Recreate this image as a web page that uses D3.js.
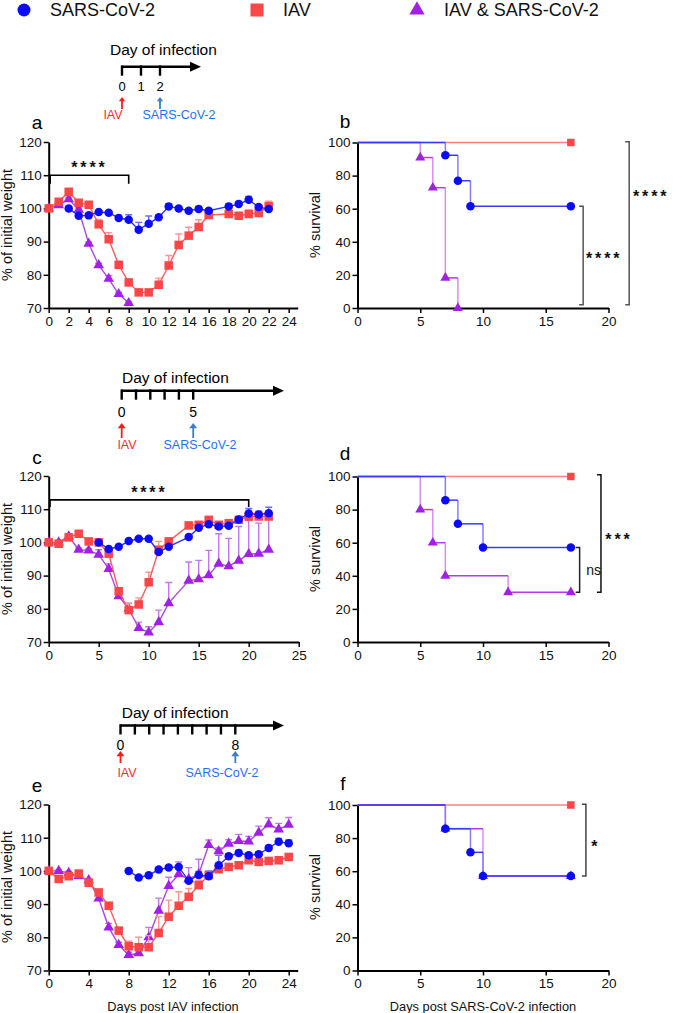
<!DOCTYPE html>
<html>
<head>
<meta charset="utf-8">
<script src="https://cdn.jsdelivr.net/npm/d3@7"></script>
<style>
  body { margin: 0; background: #fff; }
  svg text { font-family: "Liberation Sans", Arial, sans-serif; }
</style>
</head>
<body>
<svg id="chart" width="675" height="1013"></svg>
<script>
// ---- panel a : weight, SARS-CoV-2 given on day 2 ----
var aIavDays = [0,1,2,3,4,5,6,7,8,9,10,11,12,13,14,15,16,18,19,20,21,22];
var aIavW    = [100,102,105,101.7,101.1,95.2,90.7,83,77.7,74.7,74.7,77,82.8,89,91.8,94.4,98,98.3,97.8,98.3,98.6,100.7];
var aIavErr  = [0,0.5,0.8,0.8,0.6,1.5,2,1,0.8,0.5,0.5,2,3,3.3,2.5,2.2,1,1,0.8,1.2,1,1.5];
var aSarsDays = [2,3,4,5,6,7,8,9,10,11,12,13,14,15,16,18,19,20,21,22];
var aSarsW    = [100,97.8,97.9,98.9,98.7,97.1,96.6,93.6,95.4,97.3,100.6,100,99.3,99.8,99.3,100.6,101.3,102.6,100.4,99.8];
var aSarsErr  = [0.3,0.8,0.5,0.5,0.5,0.8,1.5,2.2,2.3,0.5,0.8,0.4,0.5,0.8,0.6,0.8,0.8,1,0.5,0.5];
var aCoDays = [0,1,2,3,4,5,6,7,8];
var aCoW    = [100,101,102.8,99.6,89.4,82.9,78.8,74.2,71.5];
var aCoErr  = [0,0.3,0.6,0.5,0.5,0.6,1,0.5,0.3];

// ---- panel c : weight, SARS-CoV-2 given on day 5 ----
var cIavDays = [0,1,2,3,4,5,6,7,8,9,10,11,12,14,15,16,17,18,19,20,21,22];
var cIavW    = [100,99.6,101.5,102.6,100.3,100,96.6,85.3,79.6,81.3,88,97.8,100.3,105.1,105.3,106.8,105.3,105.8,106.8,107.8,107.8,107.8];
var cIavErr  = [0,0.3,0.5,0.5,0.5,0.5,1,1,2,2,3,2.5,1,1,0.8,0.8,0.6,0.6,0.6,0.8,0.8,0.8];
var cSarsDays = [5,6,7,8,9,10,11,12,14,15,16,17,18,19,20,21,22];
var cSarsW    = [100,98,98.7,100.4,101.1,101.1,97.1,98.7,101.6,104.4,105.5,104.8,105,106.9,108.7,108.4,108.8];
var cSarsErr  = [0.3,0.5,0.3,0.3,0.3,0.3,0.8,0.8,0.5,0.5,0.5,0.5,0.5,0.6,1.5,1,1.8];
var cCoDays = [0,1,2,3,4,5,6,7,8,9,10,11,12,14,15,16,17,18,19,20,21,22];
var cCoW    = [100,100,101.8,97.8,97.6,96.3,92,83.8,80,74.2,72.9,76,81.7,88.5,88.9,90.1,93.6,92.8,94.5,96.5,96.6,97.8];
var cCoErr  = [0,0.3,0.8,0.5,0.5,1.5,1.5,1,1.7,1.8,1.7,3.6,6.2,5.6,5.7,7.5,9,8.4,10.3,10.1,9.2,10];

// ---- panel e : weight, SARS-CoV-2 given on day 8 ----
var eIavDays = [0,1,2,3,4,5,6,7,8,9,10,11,12,13,14,15,16,17,18,19,20,21,22,23,24];
var eIavW    = [100,97.6,98.4,99.2,96.4,93.5,89.5,82,77.3,77,77,81.3,86.2,89.5,92.2,95.7,98.7,100.5,101.2,101.7,103.2,102.7,103,103.2,104.2];
var eIavErr  = [0,0.5,0.5,0.5,1,1,1,1,1.5,3,3.5,5,5,4.2,2.5,1.5,1.3,1,0.8,0.8,0.8,0.8,1,1,1];
var eSarsDays = [8,9,10,11,12,13,14,15,16,17,18,19,20,21,22,23,24];
var eSarsW    = [100,98,98.7,100.4,101,101.2,97,98.8,98.4,101.7,104.4,105.4,104.7,105,106.9,108.8,108.3];
var eSarsErr  = [0.2,0.3,0.3,0.3,0.3,0.3,1,1,1.5,3,0.8,0.8,0.7,0.7,0.8,1,1];
var eCoDays = [0,1,2,3,4,5,6,7,8,9,10,11,12,13,14,15,16,17,18,19,20,21,22,23,24];
var eCoW    = [100,100,99.4,98.4,97.2,91.7,83,77.7,74.7,75.2,80,88,95.5,99,97.5,99,107.8,105.9,108.2,109,108.9,111.5,114,112.5,113.9];
var eCoErr  = [0,0.3,0.5,0.5,0.5,1,1.2,0.8,0.8,0.8,3,3.8,2.6,3.7,3.5,4.5,1.5,1,1.2,2,1.5,2,2,1.8,2.2];

// ---- survival (Kaplan-Meier steps: time, % survival) ----
var bIavT = [0,17],            bIavS = [100,100];
var bSarsT = [0,7,8,9,17],     bSarsS = [100,92.3,76.9,61.5,61.5];
var bCoT = [0,5,6,7,8],        bCoS = [100,90.9,72.7,18.2,0];
var dIavT = [0,17],            dIavS = [100,100];
var dSarsT = [0,7,8,10,17],    dSarsS = [100,85.7,71.4,57.1,57.1];
var dCoT = [0,5,6,7,12,17],    dCoS = [100,80,60,40,30,30];
var fIavT = [0,17],            fIavS = [100,100];
var fSarsT = [0,7,9,10,17],    fSarsS = [100,85.7,71.4,57.1,57.1];
var fCoT = [0,7,10,17],        fCoS = [100,85.7,57.1,57.1];

// ---- ticks ----
var weightTicks = [70,80,90,100,110,120];
var survTicks = [0,20,40,60,80,100];
var dayTicksA = [0,2,4,6,8,10,12,14,16,18,20,22,24];
var dayTicksC = [0,5,10,15,20,25];
var dayTicksE = [0,4,8,12,16,20,24];
var survDayTicks = [0,5,10,15,20];

var legendNames = ["SARS-CoV-2", "IAV", "IAV & SARS-CoV-2"];

var COL = {
    sars: { mark: "#0a0aff", line: "#2f2fff", err: "#6b6bff", surv: "#3a3aff", step: "#8080ff" },
    iav:  { mark: "#fa4646", line: "#ff5a5a", err: "#ff9494", surv: "#ff7f7f", step: "#ff9a9a" },
    co:   { mark: "#a21fe6", line: "#b044ea", err: "#c277f0", surv: "#b53ae8", step: "#dc8cf2" }
};
var FONT = "'Liberation Sans', Arial, sans-serif";

var svg = d3.select("#chart");
svg.append("rect").attr("width", 675).attr("height", 1013).attr("fill", "#fff");

function styleAxis(g) {
    g.attr("font-family", FONT);
    g.select(".domain").attr("stroke", "#000").attr("stroke-width", 2);
    g.selectAll(".tick line").attr("stroke", "#000").attr("stroke-width", 1.5);
    g.selectAll(".tick text").attr("font-size", 13.5).attr("fill", "#111");
}

function marker( g, kind, cx, cy, size) {
    var c = COL[kind].mark;
    if ( kind === "sars") {
        g.append("circle").attr("cx", cx).attr("cy", cy).attr("r", size * 0.5).attr("fill", c);
    } else if ( kind === "iav") {
        g.append("rect").attr("x", cx - size / 2).attr("y", cy - size / 2)
            .attr("width", size).attr("height", size).attr("fill", c);
    } else {
        g.append("path").attr("transform", "translate(" + cx + "," + cy + ")")
            .attr("d", d3.symbol(d3.symbolTriangle, size * size * 0.6)()).attr("fill", c);
    }
}

function starText( g, x, y, txt, size) {
    g.append("text").attr("x", x).attr("y", y + size * 0.55)
        .attr("text-anchor", "middle").attr("font-size", size).attr("font-weight", "bold")
        .attr("letter-spacing", size * 0.18).attr("fill", "#111").text(txt);
}

function bracketV( g, x, y1, y2, color) {
    // vertical significance bracket with small left-pointing ends
    g.append("path").attr("d", "M" + (x - 4) + "," + y1 + "H" + x + "V" + y2 + "H" + (x - 4))
        .attr("fill", "none").attr("stroke", color).attr("stroke-width", 1.5);
}

function panelLetter( x, y, l) {
    svg.append("text").attr("x", x).attr("y", y).attr("font-size", 19)
        .attr("text-anchor", "middle").attr("dominant-baseline", "central").text(l);
}

function yTitle( x, y, txt) {
    svg.append("text").attr("transform", "translate(" + x + "," + y + ") rotate(-90)")
        .attr("text-anchor", "middle").attr("dominant-baseline", "central")
        .attr("font-size", 14.5).attr("fill", "#111").text(txt);
}

function drawWeight( cfg) {
    var x = d3.scaleLinear().domain([0, cfg.xEnd]).range([48.7, 48.7 + cfg.xEnd * 10]);
    var y = d3.scaleLinear().domain([70, 120]).range([cfg.bottom, cfg.bottom - 166]);
    var g = svg.append("g");

    g.append("g").attr("transform", "translate(0," + cfg.bottom + ")")
        .call(d3.axisBottom(x).tickValues(cfg.xTicks).tickSize(5).tickPadding(3).tickSizeOuter(0))
        .call(styleAxis);
    g.append("g").attr("transform", "translate(48.7,0)")
        .call(d3.axisLeft(y).tickValues(weightTicks).tickSize(5).tickPadding(2).tickSizeOuter(0))
        .call(styleAxis);

    cfg.series.forEach(function( s) {
        var pts = s.days.map(function( d, i) { return { x: d, y: s.w[i], e: s.err[i] }; });
        var c = COL[s.kind];
        // error bars (upper only)
        g.selectAll(null).data(pts.filter(function( p) { return p.e > 0; })).enter()
            .append("path")
            .attr("d", function( p) {
                var px = x(p.x), top = y(p.y + p.e);
                return "M" + px + "," + y(p.y) + "V" + top + "M" + (px - 3.5) + "," + top + "H" + (px + 3.5);
            })
            .attr("fill", "none").attr("stroke", c.err).attr("stroke-width", 1.4);
        var line = d3.line().x(function( p) { return x(p.x); }).y(function( p) { return y(p.y); });
        g.append("path").datum(pts).attr("d", line).attr("fill", "none")
            .attr("stroke", c.line).attr("stroke-width", 1.4);
        var mg = g.append("g");
        pts.forEach(function( p) { marker(mg, s.kind, x(p.x), y(p.y), s.kind === "co" ? 9 : 8.5); });
    });

    if ( cfg.bracket) {
        var b = cfg.bracket;
        g.append("path")
            .attr("d", "M" + x(b.from) + "," + y(b.low) + "V" + y(b.level) + "H" + x(b.to) + "V" + y(b.low))
            .attr("fill", "none").attr("stroke", "#000").attr("stroke-width", 1.6);
        starText(g, x((b.from + b.to) / 2), y(b.level) - 11, b.label, 16);
    }
    return { x: x, y: y };
}

function drawSurvival( cfg) {
    var x = d3.scaleLinear().domain([0, 20]).range([357.5, 608.5]);
    var y = d3.scaleLinear().domain([0, 100]).range([cfg.bottom, cfg.bottom - 165.5]);
    var g = svg.append("g");

    g.append("g").attr("transform", "translate(0," + cfg.bottom + ")")
        .call(d3.axisBottom(x).tickValues(survDayTicks).tickSize(5).tickPadding(3).tickSizeOuter(0))
        .call(styleAxis);
    g.append("g").attr("transform", "translate(357.5,0)")
        .call(d3.axisLeft(y).tickValues(survTicks).tickSize(5).tickPadding(2).tickSizeOuter(0))
        .call(styleAxis);

    // steps: horizontal runs in the series colour, drops a little lighter
    cfg.series.forEach(function( s) {
        var c = COL[s.kind];
        for ( var i = 0; i < s.t.length - 1; i++) {
            var x1 = x(s.t[i + 1]);
            if ( s.s[i + 1] !== s.s[i]) {
                g.append("path").attr("d", "M" + x1 + "," + y(s.s[i]) + "V" + y(s.s[i + 1]))
                    .attr("stroke", c.step).attr("stroke-width", 1.5);
            }
            g.append("path").attr("d", "M" + x(s.t[i]) + "," + y(s.s[i]) + "H" + x1)
                .attr("stroke", c.surv).attr("stroke-width", 1.5);
        }
    });
    cfg.series.forEach(function( s) {
        var mg = g.append("g");
        s.t.forEach(function( t, i) {
            if ( i > 0) marker(mg, s.kind, x(t), y(s.s[i]), s.kind === "iav" ? 7.5 : 8.5);
        });
    });

    cfg.brackets.forEach(function( b) {
        bracketV(g, x(b.at), y(b.top), y(b.bottom), b.color);
        var ty = (y(b.top) + y(b.bottom)) / 2;
        if ( b.label === "ns") {
            g.append("text").attr("x", x(b.at) + 14).attr("y", ty).attr("text-anchor", "middle")
                .attr("dominant-baseline", "central").attr("font-size", 14).attr("fill", "#111").text("ns");
        } else {
            starText(g, x(b.at) + b.dx, ty + b.dy, b.label, 16);
        }
    });
}

function drawTimeline( cfg) {
    var t = d3.scaleLinear().domain([0, 1]).range([cfg.x0, cfg.x0 + cfg.step]);
    var g = svg.append("g");
    g.append("text").attr("x", cfg.titleX).attr("y", cfg.titleY).attr("dominant-baseline", "central")
        .attr("font-size", 15.5).attr("fill", "#000").text("Day of infection");
    g.append("path").attr("d", "M" + cfg.x0 + "," + cfg.y + "H" + (cfg.end - 10))
        .attr("stroke", "#000").attr("stroke-width", 2.6);
    g.append("path")
        .attr("d", "M" + cfg.end + "," + cfg.y + "L" + (cfg.end - 11) + "," + (cfg.y - 5) + "L" + (cfg.end - 11) + "," + (cfg.y + 5) + "Z")
        .attr("fill", "#000");
    cfg.days.forEach(function( d) {
        g.append("path").attr("d", "M" + t(d) + "," + (cfg.y - 1.3) + "V" + (cfg.y + 9))
            .attr("stroke", "#000").attr("stroke-width", 2.4);
    });
    cfg.labels.forEach(function( d) {
        g.append("text").attr("x", t(d)).attr("y", cfg.labelY).attr("text-anchor", "middle")
            .attr("dominant-baseline", "central").attr("font-size", cfg.labelSize).text(d);
    });
    // infection arrows
    [[0, "#ff1a1a", "IAV", cfg.iavLabelX, "#ff2a2a"],
     [cfg.sarsDay, "#3b7fc4", "SARS-CoV-2", cfg.sarsLabelX, "#1f6fff"]].forEach(function( a) {
        var ax = t(a[0]);
        g.append("path").attr("d", "M" + ax + "," + cfg.arrowBot + "V" + (cfg.arrowTop + 4))
            .attr("stroke", a[1]).attr("stroke-width", 1.8);
        g.append("path")
            .attr("d", "M" + ax + "," + cfg.arrowTop + "L" + (ax - cfg.head) + "," + (cfg.arrowTop + cfg.head * 1.3) + "L" + (ax + cfg.head) + "," + (cfg.arrowTop + cfg.head * 1.3) + "Z")
            .attr("fill", a[1]);
        g.append("text").attr("x", a[3]).attr("y", cfg.textY).attr("text-anchor", "middle")
            .attr("dominant-baseline", "central").attr("font-size", 12.5).attr("fill", a[4]).text(a[2]);
    });
}

// ---- legend ----
var lg = svg.append("g");
[["sars", 24, 50], ["iav", 257, 283], ["co", 417, 444]].forEach(function( l, i) {
    marker(lg, l[0], l[1], 10, 13);
    lg.append("text").attr("x", l[2]).attr("y", 10).attr("dominant-baseline", "central")
        .attr("font-size", 18).attr("fill", "#111").text(legendNames[i]);
});

// ---- timelines ----
drawTimeline({ x0: 122, step: 19, y: 66.7, end: 201, days: [0,1,2], labels: [0,1,2], labelY: 86.5, labelSize: 13,
    titleX: 110, titleY: 49, arrowTop: 97, arrowBot: 109, head: 3.2, sarsDay: 2,
    iavLabelX: 113, sarsLabelX: 179, textY: 114.5 });
drawTimeline({ x0: 121.7, step: 14.3, y: 390.7, end: 284, days: [0,1,2,3,4,5], labels: [0,5], labelY: 411.5, labelSize: 14,
    titleX: 122, titleY: 377, arrowTop: 423, arrowBot: 438, head: 4, sarsDay: 5,
    iavLabelX: 127, sarsLabelX: 200, textY: 445 });
drawTimeline({ x0: 120.5, step: 14.35, y: 725.5, end: 284, days: [0,1,2,3,4,5,6,7,8], labels: [0,8], labelY: 745, labelSize: 14,
    titleX: 121.7, titleY: 712, arrowTop: 751, arrowBot: 763, head: 4, sarsDay: 8,
    iavLabelX: 127, sarsLabelX: 222, textY: 773 });

// ---- weight panels ----
drawWeight({ bottom: 308, xEnd: 24.9, xTicks: dayTicksA,
    series: [
        { kind: "co", days: aCoDays, w: aCoW, err: aCoErr },
        { kind: "iav", days: aIavDays, w: aIavW, err: aIavErr },
        { kind: "sars", days: aSarsDays, w: aSarsW, err: aSarsErr }],
    bracket: { from: 0.15, to: 8, level: 110, low: 107.4, label: "****" } });
drawWeight({ bottom: 642, xEnd: 25, xTicks: dayTicksC,
    series: [
        { kind: "co", days: cCoDays, w: cCoW, err: cCoErr },
        { kind: "iav", days: cIavDays, w: cIavW, err: cIavErr },
        { kind: "sars", days: cSarsDays, w: cSarsW, err: cSarsErr }],
    bracket: { from: 0.13, to: 20, level: 112.8, low: 110.7, label: "****" } });
drawWeight({ bottom: 970.5, xEnd: 24.9, xTicks: dayTicksE,
    series: [
        { kind: "co", days: eCoDays, w: eCoW, err: eCoErr },
        { kind: "iav", days: eIavDays, w: eIavW, err: eIavErr },
        { kind: "sars", days: eSarsDays, w: eSarsW, err: eSarsErr }] });

// ---- survival panels ----
drawSurvival({ bottom: 308,
    series: [
        { kind: "iav", t: bIavT, s: bIavS },
        { kind: "co", t: bCoT, s: bCoS },
        { kind: "sars", t: bSarsT, s: bSarsS }],
    brackets: [
        { at: 17.98, top: 61.5, bottom: 2, color: "#555", label: "****", dx: 21, dy: 0 },
        { at: 21.65, top: 100.5, bottom: 2, color: "#555", label: "****", dx: 22, dy: -30 }] });
drawSurvival({ bottom: 642,
    series: [
        { kind: "iav", t: dIavT, s: dIavS },
        { kind: "co", t: dCoT, s: dCoS },
        { kind: "sars", t: dSarsT, s: dSarsS }],
    brackets: [
        { at: 17.7, top: 57.1, bottom: 30, color: "#222", label: "ns" },
        { at: 19.4, top: 101, bottom: 30, color: "#111", label: "***", dx: 18, dy: 2.5 }] });
drawSurvival({ bottom: 970.5,
    series: [
        { kind: "iav", t: fIavT, s: fIavS },
        { kind: "co", t: fCoT, s: fCoS },
        { kind: "sars", t: fSarsT, s: fSarsS }],
    brackets: [
        { at: 18.2, top: 100.5, bottom: 57.1, color: "#444", label: "*", dx: 10, dy: 3 }] });

// ---- titles, letters ----
yTitle(7, 225, "% of initial weight");
yTitle(7, 559, "% of initial weight");
yTitle(7, 887, "% of initial weight");
yTitle(315, 225, "% survival");
yTitle(315, 559, "% survival");
yTitle(315, 887, "% survival");
panelLetter(37, 122, "a");
panelLetter(345, 121, "b");
panelLetter(37, 457, "c");
panelLetter(345, 453, "d");
panelLetter(37, 785, "e");
panelLetter(343, 783, "f");
svg.append("text").attr("x", 173).attr("y", 1006.5).attr("text-anchor", "middle")
    .attr("dominant-baseline", "central").attr("font-size", 12.8).attr("fill", "#111").text("Days post IAV infection");
svg.append("text").attr("x", 483).attr("y", 1006.5).attr("text-anchor", "middle")
    .attr("dominant-baseline", "central").attr("font-size", 12.8).attr("fill", "#111").text("Days post SARS-CoV-2 infection");
</script>
</body>
</html>
